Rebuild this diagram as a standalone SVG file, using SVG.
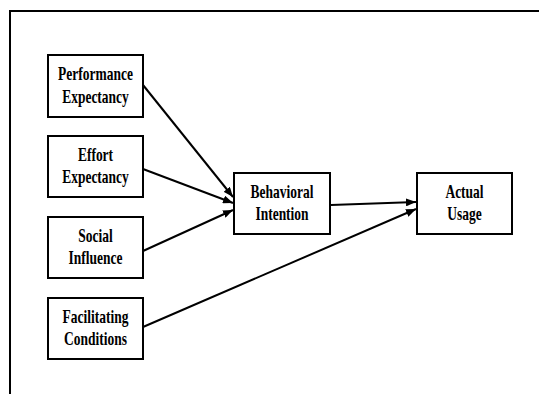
<svg xmlns="http://www.w3.org/2000/svg" width="539" height="394" viewBox="0 0 539 394">
<style>
.box{fill:#fff;stroke:#000;stroke-width:2}
.t{font-family:"Liberation Serif","Times New Roman",serif;font-weight:bold;font-size:18px;text-anchor:middle;fill:#000}
.c{stroke:#000;stroke-width:2;fill:none}
</style>
<defs>
<marker id="ah" viewBox="0 0 10 8" refX="10" refY="4" markerWidth="10" markerHeight="8" markerUnits="userSpaceOnUse" orient="auto">
<path d="M0,0 L10,4 L0,8 z" fill="#000"/>
</marker>
</defs>
<rect width="539" height="394" fill="#fff"/>
<path d="M10,394 V11 H539" fill="none" stroke="#000" stroke-width="2"/>
<g id="connectors">
<line class="c" x1="143" y1="85" x2="233" y2="197" marker-end="url(#ah)"/>
<line class="c" x1="143" y1="169" x2="233" y2="203" marker-end="url(#ah)"/>
<line class="c" x1="143" y1="251" x2="233" y2="210" marker-end="url(#ah)"/>
<line class="c" x1="331" y1="205" x2="416" y2="202" marker-end="url(#ah)"/>
<line class="c" x1="143" y1="327" x2="416" y2="209" marker-end="url(#ah)"/>
</g>
<g id="performance">
<rect class="box" x="48" y="55" width="95" height="62"/>
<text class="t" transform="translate(95.5 80) scale(0.75 1)">Performance</text>
<text class="t" transform="translate(95.5 103) scale(0.75 1)">Expectancy</text>
</g>
<g id="effort">
<rect class="box" x="48" y="136" width="95" height="61"/>
<text class="t" transform="translate(95.5 161) scale(0.75 1)">Effort</text>
<text class="t" transform="translate(95.5 183) scale(0.75 1)">Expectancy</text>
</g>
<g id="social">
<rect class="box" x="48" y="217" width="95" height="61"/>
<text class="t" transform="translate(95.5 242) scale(0.75 1)">Social</text>
<text class="t" transform="translate(95.5 264) scale(0.75 1)">Influence</text>
</g>
<g id="facilitating">
<rect class="box" x="48" y="298" width="95" height="61"/>
<text class="t" transform="translate(95.5 323) scale(0.75 1)">Facilitating</text>
<text class="t" transform="translate(95.5 345) scale(0.75 1)">Conditions</text>
</g>
<g id="behavioral">
<rect class="box" x="234" y="173" width="96" height="61"/>
<text class="t" transform="translate(282 198) scale(0.75 1)">Behavioral</text>
<text class="t" transform="translate(282 220) scale(0.75 1)">Intention</text>
</g>
<g id="actual">
<rect class="box" x="417" y="173" width="95" height="61"/>
<text class="t" transform="translate(464.5 198) scale(0.75 1)">Actual</text>
<text class="t" transform="translate(464.5 220) scale(0.75 1)">Usage</text>
</g>
</svg>
